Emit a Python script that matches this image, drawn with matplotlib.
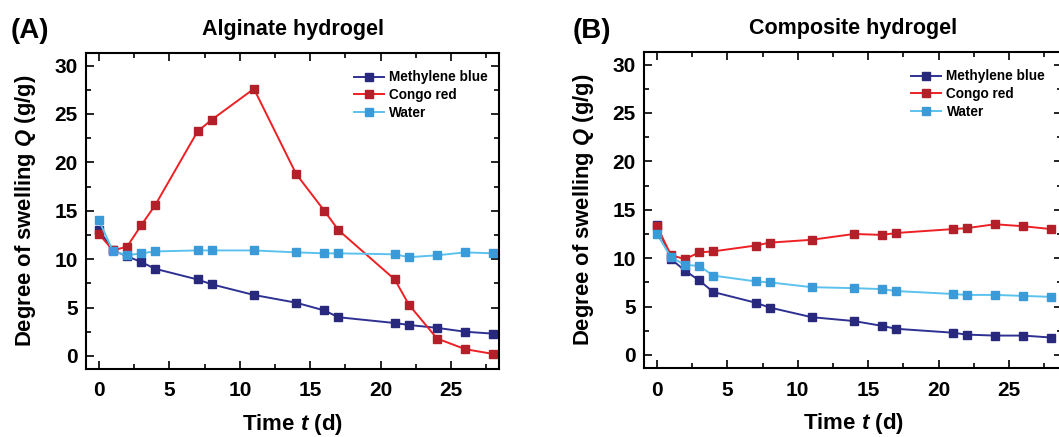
import matplotlib
matplotlib.use("Agg")
import matplotlib.pyplot as plt
from matplotlib.ticker import MultipleLocator

plt.rcParams['font.family'] = ['Liberation Sans', 'DejaVu Sans']
plt.rcParams['font.weight'] = 'bold'
plt.rcParams['axes.labelweight'] = 'bold'
plt.rcParams['axes.titleweight'] = 'bold'
plt.rcParams['mathtext.fontset'] = 'custom'
plt.rcParams['mathtext.rm'] = 'Liberation Sans:bold'
plt.rcParams['mathtext.it'] = 'Liberation Sans:bold:italic'

# Sampling days
days = [0, 1, 2, 3, 4, 7, 8, 11, 14, 16, 17, 21, 22, 24, 26, 28]

# Alginate hydrogel, Q (g/g)
alg_mb = [13.0, 10.9, 10.3, 9.7, 9.0, 7.9, 7.4, 6.3, 5.5, 4.7, 4.0, 3.4, 3.2, 2.9, 2.5, 2.3]
alg_cr = [12.6, 10.9, 11.3, 13.5, 15.6, 23.2, 24.4, 27.6, 18.8, 15.0, 13.0, 7.9, 5.3, 1.8, 0.7, 0.2]
alg_w = [14.0, 10.8, 10.4, 10.6, 10.8, 10.9, 10.9, 10.9, 10.7, 10.6, 10.6, 10.5, 10.2, 10.4, 10.7, 10.6]

# Composite hydrogel, Q (g/g)
comp_mb = [13.4, 9.9, 8.7, 7.7, 6.5, 5.4, 4.9, 3.9, 3.5, 3.0, 2.7, 2.3, 2.1, 2.0, 2.0, 1.8]
comp_cr = [13.3, 10.3, 9.9, 10.6, 10.7, 11.3, 11.6, 11.9, 12.5, 12.4, 12.6, 13.0, 13.1, 13.5, 13.3, 13.0]
comp_w = [12.5, 10.1, 9.3, 9.2, 8.2, 7.6, 7.5, 7.0, 6.9, 6.8, 6.6, 6.3, 6.2, 6.2, 6.1, 6.0]

labels = ["Methylene blue", "Congo red", "Water"]
line_cols = ["#2E3192", "#EE2024", "#5BC2EE"]
mark_cols = ["#28287C", "#B3202A", "#3B9AD8"]

W, H = 1059, 437
fig = plt.figure(figsize=(W / 100, H / 100), dpi=100)


def make_panel(rect, series, title, tag, tag_x, xmax, leg_x):
    ax = fig.add_axes(rect)
    for ys, lab, lc, mc in zip(series, labels, line_cols, mark_cols):
        ax.plot(days, ys, color=lc, lw=1.4, marker='s', ms=5.5,
                mfc=mc, mec=mc, label=lab)
    ax.set_xlim(-0.92, xmax)
    ax.set_ylim(-1.35, 31.3)
    ax.xaxis.set_major_locator(MultipleLocator(5))
    ax.xaxis.set_minor_locator(MultipleLocator(2.5))
    ax.yaxis.set_major_locator(MultipleLocator(5))
    ax.yaxis.set_minor_locator(MultipleLocator(2.5))
    ax.tick_params(which='both', direction='in', top=True, right=True, width=1.2)
    ax.tick_params(which='major', length=6, labelsize=15)
    ax.tick_params(which='minor', length=3.5)
    ax.tick_params(axis='x', pad=9)
    ax.tick_params(axis='y', pad=6)
    for s in ax.spines.values():
        s.set_linewidth(1.5)
    ax.set_xlabel(r"Time $t$ (d)", fontsize=16, labelpad=8)
    ax.set_ylabel(r"Degree of swelling $Q$ (g/g)", fontsize=15.8, labelpad=12)
    ax.set_title(title, fontsize=15.5, pad=13)
    ax.legend(loc='upper left', bbox_to_anchor=(leg_x, 0.945), frameon=False,
              fontsize=9.8, numpoints=1, handlelength=2.2, handletextpad=0.4,
              labelspacing=0.28, borderpad=0, borderaxespad=0)
    fig.text(tag_x / W, 1 - 38 / H, tag, fontsize=20, fontweight='bold',
             va='baseline', ha='left')
    return ax


make_panel([86 / W, 68 / H, 413 / W, 316 / H], [alg_mb, alg_cr, alg_w],
           "Alginate hydrogel", "(A)", 11, 28.4, 0.649)
make_panel([644 / W, 69 / H, 418 / W, 316 / H], [comp_mb, comp_cr, comp_w],
           "Composite hydrogel", "(B)", 573, 28.77, 0.639)

fig.savefig("out.png", dpi=100)
